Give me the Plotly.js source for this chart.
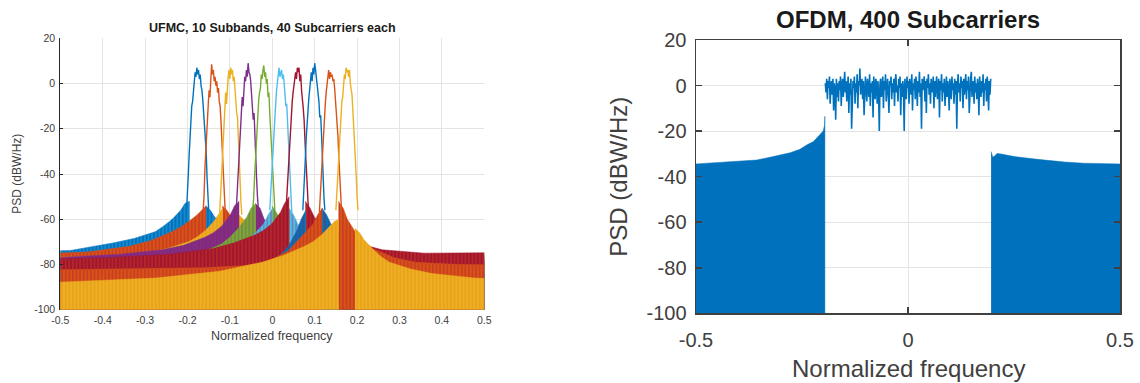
<!DOCTYPE html>
<html><head><meta charset="utf-8">
<script src="https://cdn.plot.ly/plotly-3.0.1.min.js"></script>
<style>html,body{margin:0;padding:0;background:#fff}#chart{width:1140px;height:383px}</style>
</head><body><div id="chart"></div>
<script>
const FONT = 'Liberation Sans, Arial, Helvetica, sans-serif';

// ---------- UFMC (left) ----------
const ufmcTitle = 'UFMC, 10 Subbands, 40 Subcarriers each';
const ufmcColors = ['#0072BD','#D95319','#EDB120','#7E2F8E','#77AC30','#4DBEEE','#A2142F','#0072BD','#D95319','#EDB120'];
// colour seen through the sidelobe nulls of each series
const ufmcNullColors = ['#4DBEEE','#A2142F','#E07B22','#A2142F','#7E2F8E','#A2142F','#D95319','#A2142F','#A2142F','#E07B22'];
const subbandCenters = [-0.176,-0.137,-0.098,-0.059,-0.020,0.020,0.059,0.098,0.137,0.176];
// frequency offsets of the main-lobe samples from each subband centre
const lobeOffsets = [-0.026,-0.024,-0.022,-0.020,-0.018,-0.016,-0.014,-0.012,-0.010,-0.008,-0.006,-0.004,-0.002,0,
                      0.002,0.004,0.006,0.008,0.010,0.012,0.014,0.016,0.018,0.020,0.022,0.024,0.026];
const lobe1  = [-55,-49,-40,-31,-22,-17,-10,-8,-2,1,5,3,7,4,6,2,4,-1,-3,-7,-12,-16,-24,-30,-41,-51,-56];
const lobe2  = [-56,-50,-38,-30,-20,-11,-9,-3,-6,2,8.5,4,6,1,3,-1,1,-4,-2,-8,-10,-17,-25,-35,-44,-50,-57];
const lobe3  = [-57,-50,-43,-33,-24,-16,-12,-4,-9,0,3,6,2,7,4,6,1,3,-3,-6,-13,-15,-26,-34,-43,-52,-58];
const lobe4  = [-56,-48,-41,-32,-26,-18,-13,-6,-10,-2,3,1,6,3,9,5,4,1,-5,-8,-16,-13,-25,-34,-42,-50,-55];
const lobe5  = [-55,-51,-42,-34,-24,-18,-15,-7,-4,-2,4,2,6,8,3,5,0,2,-6,-4,-13,-20,-24,-32,-40,-49,-56];
const lobe6  = [-56,-49,-42,-32,-25,-17,-12,-9,-3,1,4,7,3,5,6,2,4,0,-4,-10,-9,-18,-26,-31,-42,-51,-57];
const lobe7  = [-54,-47,-40,-34,-23,-20,-12,-8,-4,-1,3,5,2,7,5,7,1,4,-3,-6,-11,-16,-22,-33,-40,-49,-55];
const lobe8  = [-56,-50,-41,-33,-24,-16,-14,-7,-3,2,5,1,7,4,9,6,3,0,-4,-8,-15,-14,-22,-34,-42,-51,-56];
const lobe9  = [-57,-50,-42,-32,-25,-18,-13,-9,-4,-1,3,6,2,5,3,4,1,2,-2,-7,-11,-17,-24,-33,-43,-50,-55];
const lobe10 = [-56,-49,-41,-34,-25,-19,-15,-8,-6,-2,4,2,7,5,6,3,6,0,-3,-5,-12,-18,-24,-32,-41,-50,-56];
const lobeLevels = [lobe1,lobe2,lobe3,lobe4,lobe5,lobe6,lobe7,lobe8,lobe9,lobe10];
// sidelobe envelope: distance from subband centre -> level (dBW/Hz)
const sideDistances = [0.019,0.03,0.04,0.06,0.08,0.1,0.15,0.2,0.3,0.45,0.7];
const sideLeft = [
  [-52,-53,-56,-60,-63,-65.5,-68.5,-70.5,-73.8,-75,-75.5],
  [-54,-56,-58,-61,-63.5,-65.5,-69.5,-72,-74.5,-75.5,-76],
  [-55,-58,-61,-65,-68,-70,-73,-75,-76.5,-77,-77],
  [-52,-54,-58,-63,-66,-68,-71.5,-73.5,-75.5,-77,-77.5],
  [-53,-55,-59,-64,-68,-71,-75,-77.5,-79,-80,-80],
  [-55,-58,-62,-66,-70,-72.5,-76,-78,-80,-81,-81],
  [-50,-53,-57,-62,-65,-67,-70.5,-73,-75.5,-77,-78],
  [-56,-60,-65,-72,-76,-79,-81.5,-82.5,-83,-83.5,-84],
  [-55,-58,-62,-66,-70,-74,-79,-80.5,-81.5,-82,-82.5],
  [-60,-61,-63,-67,-70,-72,-76,-79,-83,-86,-88]
];
const sideRight = [
  [-54,-56,-59,-63,-66,-68,-71,-73,-75,-76,-76],
  [-54,-56,-59,-63,-66,-68,-71.5,-73.5,-75.5,-76.5,-77],
  [-58,-60,-63,-66,-69,-71,-74,-76,-77.5,-78,-78],
  [-53,-55,-60,-64,-67,-69,-73,-75.5,-77.5,-78.5,-79],
  [-54,-57,-61,-65,-68,-71,-74.5,-77,-79,-79.5,-80],
  [-55,-58,-62,-66,-69,-71.5,-75,-77.5,-79,-80,-80],
  [-52,-55,-59,-63,-66,-68,-71,-73.5,-75,-75,-74.5],
  [-55,-58,-62,-66,-70,-74,-79,-82,-84,-85,-85],
  [-52,-55,-60,-66,-70,-73,-77,-79,-80,-80.5,-81],
  [-64,-66,-69,-73,-76.5,-79,-82,-84,-86,-87,-87]
];
const ufmcXTickVals = [-0.5,-0.4,-0.3,-0.2,-0.1,0,0.1,0.2,0.3,0.4,0.5];
const ufmcXTickText = ['-0.5','-0.4','-0.3','-0.2','-0.1','0','0.1','0.2','0.3','0.4','0.5'];
const psdTickVals = [-100,-80,-60,-40,-20,0,20];
const psdTickText = ['-100','-80','-60','-40','-20','0','20'];
const psdFloor = -100;

// ---------- OFDM (right) ----------
const ofdmTitle = 'OFDM, 400 Subcarriers';
const ofdmColor = '#0072BD';
const ofdmLeftX = [-0.5,-0.475,-0.45,-0.396,-0.357,-0.318,-0.278,-0.255,-0.239,-0.223,-0.208,-0.2,-0.197,-0.196];
const ofdmLeftY = [-34.4,-34.1,-33.9,-33.4,-32.7,-31.2,-29.5,-28,-26.1,-24.6,-21.7,-20,-17.5,-13.5];
const ofdmRightX = [0.196,0.2,0.205,0.21,0.22,0.251,0.3,0.333,0.37,0.414,0.45,0.5];
const ofdmRightY = [-29,-31.5,-30.8,-29.8,-30.1,-31.2,-32.3,-33,-33.6,-34.1,-34.3,-34.4];
const ofdmBandStart = -0.195, ofdmBandEnd = 0.195;
const ofdmBand = [
  1,-3,3,-6,2,-1,4,-8,0,2,-4,3,-11,1,-2,-15,3,-5,1,-7,
  2,-2,4,-9,0,3,-5,1,6,-3,2,-7,0,4,-12,1,-4,3,-19,-6,
  2,-1,4,-8,1,-3,5,-10,2,0,7.5,-4,1,3,-6,2,-13,0,4,-2,
  -7,3,0,-5,5,-9,1,-3,2,-14,4,-1,-6,3,0,-8,2,-4,-20,1,
  3,-5,0,4,-10,2,-2,5,-7,1,3,-4,-12,2,0,4,-6,1,-3,3,
  -9,2,5,-3,0,-7,3,-1,4,-13,1,-5,2,-2,-20,3,0,-6,4,-1,
  2,-8,3,0,-4,5,-11,1,-2,3,-6,4,0,-9,2,-3,6,-5,1,-19,
  3,-2,0,4,-7,2,-12,3,-1,5,-4,1,-8,3,0,-3,4,-10,2,-5,
  1,4,-6,0,3,-14,2,-2,5,-7,1,-3,3,-9,0,4,-5,2,-1,-11,
  3,0,-6,4,-2,1,-8,3,-4,2,-19,0,5,-3,1,-7,4,-1,2,-10,
  3,-4,0,5,-6,2,-2,4,-12,1,3,6,-5,0,2,-8,4,-3,1,-6,
  3,-1,-13,4,0,-5,2,-3,5,-9,1,-2,3,-7,4,0,-11,2,-4,3
];
const ofdmXTickVals = [-0.5,0,0.5];
const ofdmXTickText = ['-0.5','0','0.5'];

// ---------- traces ----------
const traces = [];
function polygon(xs, ys, color, xa, ya, nullColor) {
  const x = xs.concat([xs[xs.length-1], xs[0]]);
  const y = ys.concat([psdFloor, psdFloor]);
  const t = {type:'scatter', mode:'lines', x, y, fill:'toself', fillcolor:color,
          line:{color:color, width:0.5}, xaxis:xa, yaxis:ya, hoverinfo:'skip', showlegend:false};
  if (nullColor) t.fillpattern = {shape:'|', bgcolor:color, fgcolor:nullColor, size:3.6, solidity:0.15, fillmode:'replace'};
  return t;
}
subbandCenters.forEach((c, k) => {
  const col = ufmcColors[k];
  traces.push(polygon(sideDistances.map(d => c - d), sideLeft[k], col, 'x', 'y', ufmcNullColors[k]));
  traces.push(polygon(sideDistances.map(d => c + d), sideRight[k], col, 'x', 'y', ufmcNullColors[k]));
  traces.push({type:'scatter', mode:'lines', x: lobeOffsets.map(o => c + o), y: lobeLevels[k],
               line:{color:col, width:1.4}, xaxis:'x', yaxis:'y', hoverinfo:'skip', showlegend:false});
});
traces.push(polygon(ofdmLeftX, ofdmLeftY, ofdmColor, 'x2', 'y2'));
traces.push(polygon(ofdmRightX, ofdmRightY, ofdmColor, 'x2', 'y2'));
const nb = ofdmBand.length;
traces.push({type:'scatter', mode:'lines',
  x: ofdmBand.map((v, i) => ofdmBandStart + i * (ofdmBandEnd - ofdmBandStart) / (nb - 1)),
  y: ofdmBand, line:{color:ofdmColor, width:1.6}, xaxis:'x2', yaxis:'y2', hoverinfo:'skip', showlegend:false});

// ---------- layout ----------
const W = 1140, H = 383;
const px = v => v / W, py = v => 1 - v / H;
const grid = '#e4e4e4';
const layout = {
  width: W, height: H, margin:{l:0,r:0,t:0,b:0}, paper_bgcolor:'#fff', plot_bgcolor:'#fff',
  font:{family:FONT, color:'#404040'}, showlegend:false,
  xaxis:{domain:[px(60.3), px(484.3)], anchor:'y', range:[-0.5,0.5], tickmode:'array',
    tickvals:ufmcXTickVals, ticktext:ufmcXTickText, showgrid:true, gridcolor:grid, zeroline:false,
    ticks:'', showline:false, layer:'below traces', tickfont:{size:10.5, color:'#404040'}, ticklabelstandoff:3},
  yaxis:{domain:[py(309.7), py(38.3)], anchor:'x', range:[-100,20], tickmode:'array',
    tickvals:psdTickVals, ticktext:psdTickText, showgrid:true, gridcolor:grid, zeroline:false,
    ticks:'inside', ticklen:3, tickcolor:'#262626', showline:true, linecolor:'#262626', linewidth:1,
    tickfont:{size:10.5, color:'#404040'}, ticklabelstandoff:2},
  xaxis2:{domain:[px(696), px(1120)], anchor:'y2', range:[-0.5,0.5], tickmode:'array',
    tickvals:ofdmXTickVals, ticktext:ofdmXTickText, showgrid:true, gridcolor:grid, zeroline:false,
    ticks:'inside', ticklen:6, tickwidth:1.5, tickcolor:'#404040', mirror:'ticks', showline:true,
    linecolor:'#404040', linewidth:1.5, tickfont:{size:20, color:'#404040'}, ticklabelstandoff:8},
  yaxis2:{domain:[py(313.3), py(40)], anchor:'x2', range:[-100,20], tickmode:'array',
    tickvals:psdTickVals, ticktext:psdTickText, showgrid:true, gridcolor:grid, zeroline:false,
    ticks:'inside', ticklen:6, tickwidth:1.5, tickcolor:'#404040', mirror:'ticks', showline:true,
    linecolor:'#404040', linewidth:1.5, tickfont:{size:20, color:'#404040'}, ticklabelstandoff:4},
  annotations:[
    {text:'<b>'+ufmcTitle+'</b>', xref:'paper', yref:'paper', x:px(272.3), y:py(28.5), showarrow:false,
     xanchor:'center', yanchor:'middle', font:{size:12.5, color:'#1a1a1a'}},
    {text:'Normalized frequency', xref:'paper', yref:'paper', x:px(272.3), y:py(336), showarrow:false,
     xanchor:'center', yanchor:'middle', font:{size:12.5, color:'#404040'}},
    {text:'PSD (dBW/Hz)', xref:'paper', yref:'paper', x:px(16.7), y:py(174), showarrow:false, textangle:-90,
     xanchor:'center', yanchor:'middle', font:{size:12, color:'#404040'}},
    {text:'<b>'+ofdmTitle+'</b>', xref:'paper', yref:'paper', x:px(908), y:py(19), showarrow:false,
     xanchor:'center', yanchor:'middle', font:{size:24, color:'#1a1a1a'}},
    {text:'Normalized frequency', xref:'paper', yref:'paper', x:px(908), y:py(368), showarrow:false,
     xanchor:'center', yanchor:'middle', font:{size:24, color:'#404040'}},
    {text:'PSD (dBW/Hz)', xref:'paper', yref:'paper', x:px(619), y:py(176.7), showarrow:false, textangle:-90,
     xanchor:'center', yanchor:'middle', font:{size:24, color:'#404040'}}
  ]
};
Plotly.newPlot('chart', traces, layout, {staticPlot:true, displayModeBar:false});
</script>
</body></html>
